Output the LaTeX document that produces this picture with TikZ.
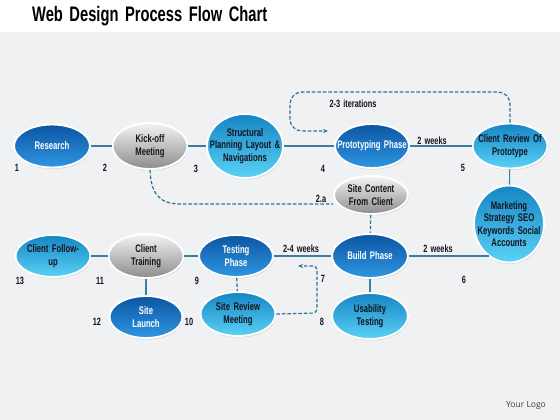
\documentclass[tikz,border=0pt]{standalone}
\usepackage{fontspec}
\newfontfamily\cond[FakeStretch=0.7,WordSpace=2]{Liberation Sans}
\newfontfamily\titlefont[FakeStretch=0.7,WordSpace=1.6]{Liberation Sans}
\newfontfamily\logofont{Open Sans}
\usetikzlibrary{shapes.geometric,shadows,arrows.meta}
\definecolor{dkTop}{HTML}{0C55A2}
\definecolor{dkBot}{HTML}{2F96E2}
\definecolor{cyTop}{HTML}{1585C4}
\definecolor{cyBot}{HTML}{5AD2F6}
\definecolor{gyTop}{HTML}{F4F4F4}
\definecolor{gyBot}{HTML}{8C8C8C}
\definecolor{lineC}{HTML}{3A7EA2}
\definecolor{dashC}{HTML}{2B7398}
\definecolor{bgC}{HTML}{EFF1F2}
\definecolor{txtD}{HTML}{14141E}
\begin{document}
\begin{tikzpicture}[x=1pt,y=-1pt,
  bubble/.style={ellipse, draw=white, line width=1.9pt, align=center, inner xsep=-40pt, inner ysep=-30pt,
    font=\cond\bfseries\fontsize{11}{12.5}\selectfont,
    drop shadow={opacity=0.25, shadow xshift=0.8pt, shadow yshift=-1.5pt}},
  dkb/.style={bubble, top color=dkTop, bottom color=dkBot, text=white},
  cyb/.style={bubble, top color=cyTop, bottom color=cyBot, text=txtD},
  gyb/.style={bubble, top color=gyTop, bottom color=gyBot, text=txtD},
  link/.style={draw=lineC, line width=1.1pt},
  dsh/.style={draw=dashC, line width=1.2pt, dash pattern=on 3.5pt off 2pt},
  num/.style={font=\cond\bfseries\fontsize{10.5}{12}\selectfont, text=txtD, inner sep=0pt},
  lbl/.style={font=\cond\bfseries\fontsize{10.5}{12}\selectfont, text=txtD, inner sep=0pt}
]
\useasboundingbox (0,0) rectangle (560,420);
\fill[white] (0,0) rectangle (560,420);
\fill[bgC] (0,32) rectangle (560,420);

\node[anchor=west, inner sep=0pt, font=\titlefont\bfseries\fontsize{21}{23}\selectfont] (title) at (32,16) {Web Design Process Flow Chart};
\node[inner sep=0pt, font=\logofont\fontsize{8.5}{10}\selectfont, text=black!75] (logo) at (526,405) {Your Logo};

% nodes
\node[dkb, minimum width=76pt, minimum height=43pt] (research) at (52,146) {Research};
\node[gyb, minimum width=75pt, minimum height=46pt] (kick) at (150,146) {Kick-off\\Meeting};
\node[cyb, minimum width=76pt, minimum height=64pt] (struct) at (245,146) {Structural\\Planning Layout \&\\Navigations};
\node[dkb, minimum width=74pt, minimum height=44pt] (proto) at (372,146) {Prototyping Phase};
\node[cyb, minimum width=75pt, minimum height=45pt] (review) at (510,146) {Client Review Of\\Prototype};
\node[cyb, minimum width=70pt, minimum height=77pt] (market) at (509,224) {Marketing\\Strategy SEO\\Keywords Social\\Accounts};
\node[gyb, minimum width=74pt, minimum height=38pt] (content) at (371,195) {Site Content\\From Client};
\node[dkb, minimum width=76pt, minimum height=44pt] (build) at (370,256) {Build Phase};
\node[cyb, minimum width=76pt, minimum height=46pt] (usab) at (370,316) {Usability\\Testing};
\node[dkb, minimum width=74pt, minimum height=42pt] (testing) at (236,256) {Testing\\Phase};
\node[cyb, minimum width=75pt, minimum height=44pt] (sreview) at (238,314) {Site Review\\Meeting};
\node[gyb, minimum width=75pt, minimum height=44pt] (training) at (146,256) {Client\\Training};
\node[dkb, minimum width=73pt, minimum height=42pt] (launch) at (146,317) {Site\\Launch};
\node[cyb, minimum width=75pt, minimum height=42pt] (follow) at (53,256) {Client Follow-\\up};

% solid connectors
\draw[link] (research) -- (kick);
\draw[link] (kick) -- (struct);
\draw[link] (struct) -- (proto);
\draw[link] (proto) -- (review);
\draw[link] (review) -- (market);
\draw[link] (build.east) -- (build.east -| market.239);
\draw[link] (build) -- (testing);
\draw[link] (testing) -- (training);
\draw[link] (training) -- (follow);
\draw[link] (training) -- (launch);
\draw[link] (build) -- (usab);

% dashed connectors
\coordinate (tipA) at (328,131);
\coordinate (tipB) at (298,266);
\coordinate (midK) at (180,204);
\draw[dsh, rounded corners=12pt, -{Stealth[length=5pt,width=4pt]}] (review.north) -- (510,92) -- (290,92) -- (290,131) -- (tipA);
\draw[dsh] (kick.south) .. controls (151,192) and (158,204) .. (midK) -- (content.west |- midK);
\draw[dsh] (content) -- (build);
\draw[dsh] (testing) -- (sreview);
\draw[dsh, rounded corners=4pt, -{Stealth[length=5pt,width=4pt]}] (sreview.east) -- (317,313) -- (317,266) -- (tipB);

% labels
\node[lbl] (it) at (353,104) {2-3 iterations};
\node[lbl] (w1) at (432,141) {2 weeks};
\node[lbl] (w2) at (301,249) {2-4 weeks};
\node[lbl] (w3) at (438,249) {2 weeks};
\node[lbl] (twoa) at (321,199) {2.a};

% numbers
\node[num] (n1) at (17,168) {1};
\node[num] (n2) at (105,168) {2};
\node[num] (n3) at (196,169) {3};
\node[num] (n4) at (323,169) {4};
\node[num] (n5) at (463,168) {5};
\node[num] (n6) at (464,280) {6};
\node[num] (n7) at (323,279) {7};
\node[num] (n8) at (322,322) {8};
\node[num] (n9) at (197,281) {9};
\node[num] (n10) at (189,322) {10};
\node[num] (n11) at (100,281) {11};
\node[num] (n12) at (97,322) {12};
\node[num] (n13) at (20,281) {13};
\end{tikzpicture}
\end{document}
